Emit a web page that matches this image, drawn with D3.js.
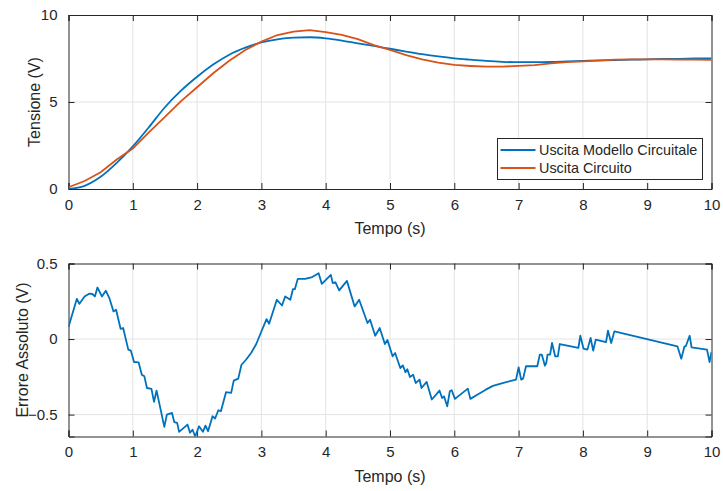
<!DOCTYPE html>
<html>
<head>
<meta charset="utf-8">
<script src="https://cdn.jsdelivr.net/npm/d3@7"></script>
<style>
  body { margin: 0; background: #fff; }
  text { font-family: 'Liberation Sans', Arial, Helvetica, sans-serif; fill: #262626; }
  .grid line { stroke: #e3e3e3; stroke-width: 1; }
  .axis path, .axis line { stroke: #262626; }
</style>
</head>
<body>
<div id="chart"></div>
<script>
// time grid of the step responses (s)
var timeTop = [0, 0.25, 0.5, 0.75, 1, 1.25, 1.5, 1.75, 2, 2.25, 2.5, 2.75, 3, 3.25, 3.5, 3.75,
  4, 4.25, 4.5, 4.75, 5, 5.25, 5.5, 5.75, 6, 6.25, 6.5, 6.75, 7, 7.25, 7.5, 7.75,
  8, 8.25, 8.5, 8.75, 9, 9.25, 9.5, 9.75, 10];

// Uscita Modello Circuitale (V)
var modelOut = [0, 0.18, 0.7, 1.5, 2.45, 3.55, 4.7, 5.65, 6.45, 7.15, 7.72, 8.12, 8.42, 8.6, 8.7, 8.72,
  8.66, 8.53, 8.37, 8.22, 8.06, 7.9, 7.75, 7.62, 7.51, 7.43, 7.36, 7.31, 7.29, 7.29, 7.3, 7.33,
  7.36, 7.39, 7.41, 7.43, 7.45, 7.47, 7.48, 7.5, 7.51];

// Uscita Circuito (V)
var circuitOut = [0.1, 0.46, 0.96, 1.69, 2.33, 3.25, 4.15, 5.05, 5.85, 6.65, 7.37, 7.99, 8.47, 8.85, 9.05, 9.13,
  9.02, 8.86, 8.61, 8.27, 7.99, 7.7, 7.45, 7.26, 7.13, 7.07, 7.03, 7.03, 7.08, 7.12, 7.22, 7.29,
  7.33, 7.38, 7.44, 7.45, 7.45, 7.45, 7.44, 7.44, 7.42];

// Errore Assoluto (V)
var errTime = [0, 0.13, 0.17, 0.25, 0.32, 0.37, 0.41, 0.45, 0.52, 0.58, 0.635, 0.7, 0.74, 0.81, 0.85, 0.93, 0.97,
  1.02, 1.09, 1.14, 1.18, 1.22, 1.29, 1.33, 1.37, 1.49, 1.53, 1.61, 1.645, 1.69, 1.72, 1.85, 1.89, 1.93, 1.97,
  2.03, 2.09, 2.13, 2.17, 2.24, 2.28, 2.33, 2.37, 2.45, 2.53, 2.57, 2.64, 2.69, 2.76, 2.84, 2.92, 2.99,
  3.08, 3.12, 3.24, 3.32, 3.37, 3.45, 3.49, 3.52, 3.565, 3.68, 3.79, 3.89, 3.94,
  4.08, 4.11, 4.15, 4.21, 4.33, 4.45, 4.52, 4.65, 4.69, 4.77, 4.84, 4.92, 4.96,
  5.04, 5.08, 5.16, 5.2, 5.24, 5.27, 5.31, 5.36, 5.4, 5.46, 5.49, 5.57, 5.65, 5.77, 5.81, 5.84, 5.89, 5.93, 5.96,
  6.01, 6.21, 6.25, 6.35, 6.49, 6.6, 6.75, 6.96, 7, 7.04, 7.07, 7.115, 7.29, 7.33, 7.36, 7.41, 7.43, 7.45,
  7.49, 7.52, 7.57, 7.61, 7.64, 7.93, 7.96, 8.01, 8.07, 8.12, 8.16, 8.2, 8.36, 8.39, 8.44, 8.49,
  9.47, 9.53, 9.58, 9.6, 9.66, 9.69, 9.93, 9.97, 10];
var errValue = [0.08, 0.266, 0.233, 0.282, 0.3, 0.298, 0.282, 0.341, 0.282, 0.32, 0.271, 0.183, 0.194, 0.068, 0.073, -0.07, -0.077,
  -0.152, -0.154, -0.236, -0.247, -0.324, -0.33, -0.416, -0.341, -0.581, -0.5, -0.489, -0.55, -0.555, -0.614, -0.566, -0.62, -0.6, -0.645,
  -0.577, -0.614, -0.573, -0.61, -0.511, -0.526, -0.471, -0.478, -0.352, -0.356, -0.275, -0.262, -0.17, -0.137, -0.092, -0.033, 0.04,
  0.132, 0.101, 0.26, 0.222, 0.282, 0.26, 0.33, 0.33, 0.398, 0.398, 0.41, 0.436, 0.365,
  0.425, 0.37, 0.376, 0.322, 0.385, 0.216, 0.26, 0.106, 0.128, 0.022, 0.073, -0.033, -0.006,
  -0.114, -0.092, -0.192, -0.174, -0.22, -0.2, -0.251, -0.236, -0.291, -0.269, -0.324, -0.284, -0.4, -0.341, -0.39, -0.379, -0.445, -0.346, -0.339,
  -0.396, -0.328, -0.396, -0.37, -0.335, -0.31, -0.291, -0.269, -0.187, -0.269, -0.262, -0.18, -0.18, -0.103, -0.103, -0.176, -0.159, -0.103,
  -0.103, -0.026, -0.115, -0.115, -0.033, -0.059, 0.022, -0.064, -0.07, 0.007, -0.077, -0.004, -0.02, 0.055, -0.026, 0.051,
  -0.048, -0.13, -0.048, -0.048, 0.022, -0.055, -0.07, -0.152, -0.086];

var xTicks = [0, 1, 2, 3, 4, 5, 6, 7, 8, 9, 10];
var yTicksTop = [0, 5, 10];
var yTicksBottom = [-0.5, 0, 0.5];

var width = 723;
var height = 491;
var left = 68.5;
var right = 711.5;
var blue = '#0072bd';
var orange = '#d95319';

var svg = d3
  .select('#chart')
  .append('svg')
  .attr('width', width)
  .attr('height', height);

var x = d3.scaleLinear().domain([0, 10]).range([left, right]);

// draws one framed MATLAB-like axes box, returns its y scale
function drawAxes(top, bottom, yDomain, yTicks, yFormat, yLabel, yLabelX, id) {
  var y = d3.scaleLinear().domain(yDomain).range([bottom, top]);

  var grid = svg.append('g').attr('class', 'grid');
  grid.selectAll('.gx').data(xTicks.slice(1, -1)).enter().append('line')
    .attr('x1', d => x(d)).attr('x2', d => x(d))
    .attr('y1', top).attr('y2', bottom);
  grid.selectAll('.gy').data(yTicks.filter(d => y(d) > top + 1 && y(d) < bottom - 1)).enter().append('line')
    .attr('x1', left).attr('x2', right)
    .attr('y1', d => y(d)).attr('y2', d => y(d));

  svg.append('clipPath').attr('id', id)
    .append('rect').attr('x', left).attr('y', top).attr('width', right - left).attr('height', bottom - top);

  // ticks inside the box on all four sides
  var ax = svg.append('g').attr('class', 'axis');
  ax.append('g').attr('transform', 'translate(0,' + bottom + ')')
    .call(d3.axisBottom(x).tickValues(xTicks).tickSize(-6).tickPadding(10).tickFormat(d3.format('d')));
  ax.append('g').attr('transform', 'translate(0,' + top + ')')
    .call(d3.axisTop(x).tickValues(xTicks).tickSize(-6).tickFormat(''));
  ax.append('g').attr('transform', 'translate(' + left + ',0)')
    .call(d3.axisLeft(y).tickValues(yTicks).tickSize(-6).tickPadding(11).tickFormat(yFormat));
  ax.append('g').attr('transform', 'translate(' + right + ',0)')
    .call(d3.axisRight(y).tickValues(yTicks).tickSize(-6).tickFormat(''));
  ax.selectAll('.domain').attr('stroke-width', 1);
  ax.selectAll('text').attr('font-size', 15).attr('fill', '#262626')
    .attr('font-family', "'Liberation Sans', Arial, sans-serif");

  svg.append('text')
    .attr('transform', 'translate(' + yLabelX + ',' + (top + bottom) / 2 + ') rotate(-90)')
    .attr('text-anchor', 'middle')
    .attr('font-size', 16)
    .text(yLabel);
  svg.append('text')
    .attr('x', (left + right) / 2)
    .attr('y', bottom + 45)
    .attr('text-anchor', 'middle')
    .attr('font-size', 16)
    .text('Tempo (s)');

  return y;
}

// top: step responses
var yTop = drawAxes(15, 189, [0, 10], yTicksTop, d3.format('d'), 'Tensione (V)', 40, 'clipTop');

var line = d3.line()
  .x(d => x(d[0]))
  .y(d => yTop(d[1]));

svg.append('path')
  .datum(timeTop.map((t, i) => [t, modelOut[i]]))
  .attr('fill', 'none')
  .attr('stroke', blue)
  .attr('stroke-width', 1.8)
  .attr('clip-path', 'url(#clipTop)')
  .attr('d', line.curve(d3.curveMonotoneX));

svg.append('path')
  .datum(timeTop.map((t, i) => [t, circuitOut[i]]))
  .attr('fill', 'none')
  .attr('stroke', orange)
  .attr('stroke-width', 1.8)
  .attr('clip-path', 'url(#clipTop)')
  .attr('d', line.curve(d3.curveLinear));

// legend
var legend = svg.append('g').attr('transform', 'translate(497.5,138.5)');
legend.append('rect')
  .attr('width', 205).attr('height', 41)
  .attr('fill', '#fff').attr('stroke', '#262626').attr('stroke-width', 1);
[['Uscita Modello Circuitale', blue], ['Uscita Circuito', orange]].forEach((d, i) => {
  var yy = 11.5 + i * 18;
  legend.append('line')
    .attr('x1', 3).attr('x2', 38).attr('y1', yy).attr('y2', yy)
    .attr('stroke', d[1]).attr('stroke-width', 1.8);
  legend.append('text')
    .attr('x', 41.5).attr('y', yy + 5)
    .attr('font-size', 14.4)
    .text(d[0]);
});

// bottom: absolute error
var yBot = drawAxes(263.5, 436.5, [-0.645, 0.5], yTicksBottom, d => (d === 0 ? '0' : d3.format('.1f')(d)),
  'Errore Assoluto (V)', 28, 'clipBot');

svg.append('path')
  .datum(errTime.map((t, i) => [t, errValue[i]]))
  .attr('fill', 'none')
  .attr('stroke', blue)
  .attr('stroke-width', 1.8)
  .attr('stroke-linejoin', 'round')
  .attr('clip-path', 'url(#clipBot)')
  .attr('d', d3.line().x(d => x(d[0])).y(d => yBot(d[1])));
</script>
</body>
</html>
